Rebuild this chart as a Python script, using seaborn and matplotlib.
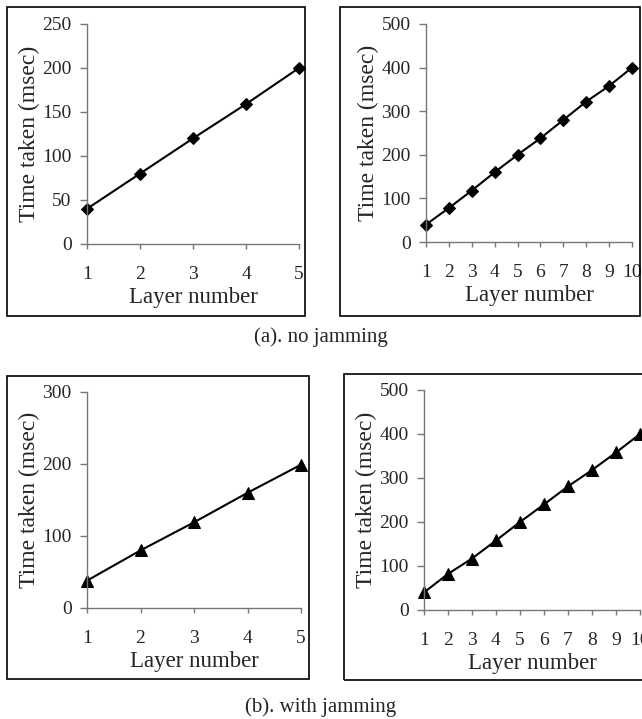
import matplotlib
matplotlib.use("Agg")
import matplotlib.pyplot as plt
from matplotlib.patches import Rectangle
import seaborn as sns

# data
layers_5 = [1, 2, 3, 4, 5]
layers_10 = [1, 2, 3, 4, 5, 6, 7, 8, 9, 10]
nojam_5 = [40, 80, 120, 159, 200]
nojam_10 = [40, 78, 118, 160, 200, 238, 280, 322, 358, 400]
jam_5 = [38, 80, 119, 160, 199]
jam_10 = [40, 82, 117, 158, 200, 240, 281, 318, 358, 400]

W, H = 642, 719

sns.set_style("ticks")
plt.rcParams['font.family'] = ['Liberation Serif', 'DejaVu Serif']

fig = plt.figure(figsize=(W / 100, H / 100), dpi=100)


def px_axes(x0, x1, ytop, ybot):
    return fig.add_axes([x0 / W, 1 - ybot / H, (x1 - x0) / W, (ybot - ytop) / H])


def px_box(x0, x1, ytop, ybot):
    fig.add_artist(Rectangle((x0 / W, 1 - ybot / H), (x1 - x0) / W, (ybot - ytop) / H,
                             transform=fig.transFigure, fill=False, lw=1.2, ec='black'))


def draw_panel(ax, x, y, marker, ms, ymax, ystep):
    sns.lineplot(x=x, y=y, ax=ax, color='black', marker=marker, markersize=ms,
                 markeredgecolor='black', markerfacecolor='black', linewidth=1.5,
                 clip_on=False)
    ax.set_xlim(x[0], x[-1])
    ax.set_ylim(0, ymax)
    ax.set_xticks(x)
    ax.set_yticks(range(0, ymax + 1, ystep))
    sns.despine(ax=ax)
    for s in ['left', 'bottom']:
        ax.spines[s].set_color('#777777')
        ax.spines[s].set_linewidth(1.0)
    ax.tick_params(axis='y', length=5, width=1, color='#777777', pad=6, labelsize=14)
    ax.tick_params(axis='x', length=3.5, width=1, color='#777777', pad=12, labelsize=14)
    ax.set_xlabel('Layer number', fontsize=16.5, labelpad=3)
    ax.set_ylabel('Time taken (msec)', fontsize=17, labelpad=2)


# (a) no jamming
ax1 = px_axes(87, 299, 24, 244)
draw_panel(ax1, layers_5, nojam_5, 'D', 6.5, 250, 50)
ax2 = px_axes(426, 632, 24, 242)
draw_panel(ax2, layers_10, nojam_10, 'D', 6.5, 500, 100)

# (b) with jamming
ax3 = px_axes(87, 301, 392, 608)
draw_panel(ax3, layers_5, jam_5, '^', 8, 300, 100)
ax4 = px_axes(424, 640, 390, 610)
draw_panel(ax4, layers_10, jam_10, '^', 8, 500, 100)

px_box(7, 305, 7, 316)
px_box(340, 640, 7, 316)
px_box(7, 309, 376, 679)
px_box(344, 660, 374, 680)

fig.text(321 / W, 1 - 337 / H, '(a). no jamming', ha='center', va='center', fontsize=15)
fig.text(321 / W, 1 - 707 / H, '(b). with jamming', ha='center', va='center', fontsize=15)

fig.savefig('out.png', dpi=100)
